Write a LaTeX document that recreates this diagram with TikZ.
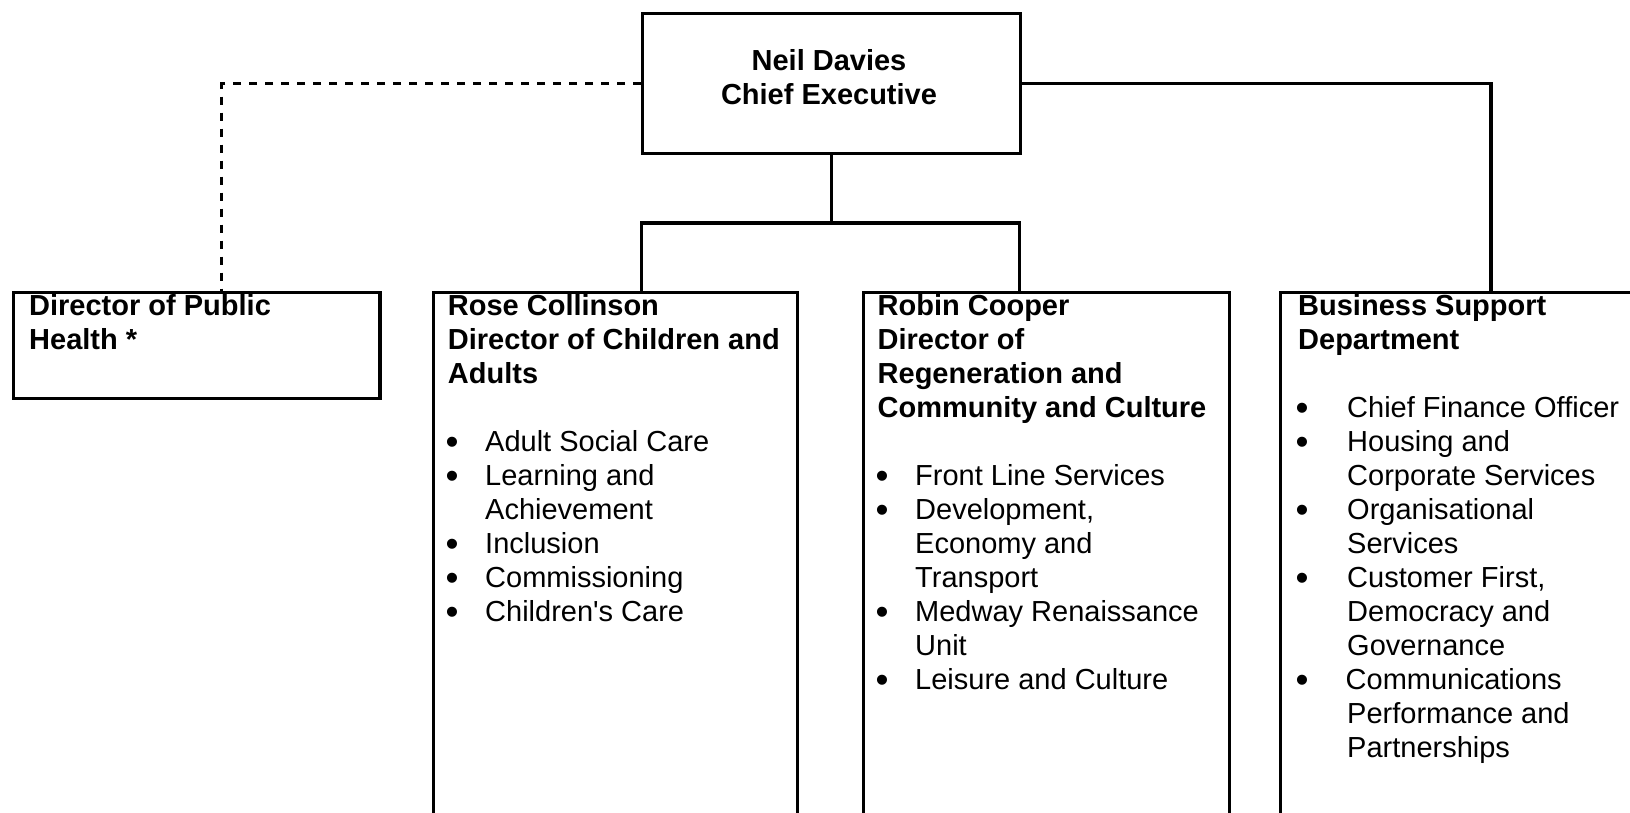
\documentclass[tikz,border=0pt]{standalone}
\usepackage{fontspec}
\setmainfont{Liberation Sans}
\newcommand\orgline[4]{\node[txt] (#1) at (#2,#3) {#4};}
\newcommand\orghead[4]{\node[txt,font=\fontsize{29}{34}\selectfont\bfseries] (#1) at (#2,#3) {#4};}
\newcommand\orgbul[3]{\node[bul,font=\fontsize{37}{34}\selectfont] (#1) at (#2,#3+3.5) {•};}
\begin{document}
\begin{tikzpicture}[x=1pt,y=-1pt,
  box/.style={draw=black, line width=3.2pt, inner sep=0pt, anchor=north west, fill=none},
  txt/.style={anchor=base west, inner sep=0pt, font=\fontsize{29}{34}\selectfont},
  bul/.style={anchor=base, inner sep=0pt, font=\fontsize{29}{34}\selectfont},
  conn/.style={draw=black, line width=3.2pt},
  dconn/.style={draw=black, line width=3.2pt, dash pattern=on 8pt off 8pt}]
\useasboundingbox (0,0) rectangle (1630,813);
\clip (0,0) rectangle (1630,813);
\fill[white] (0,0) rectangle (1630,813);

% boxes
\node[box, minimum width=378pt, minimum height=140pt] (ceo) at (641,12.3) {};
\node[box, minimum width=366.6pt, minimum height=106pt] (ph) at (11.7,290.5) {};
\node[box, minimum width=364.3pt, minimum height=560pt] (rose) at (431.7,290.5) {};
\node[box, minimum width=366pt, minimum height=560pt] (robin) at (861.7,290.5) {};
\node[box, minimum width=400pt, minimum height=560pt] (biz) at (1279,290.5) {};

% connector points
\coordinate (jr) at (641.5,223);
\coordinate (jb) at (1019.5,223);
\coordinate (phc) at (221.7,290.5);
\coordinate (bizc) at (1491,290.5);

\draw[conn] (ceo.south) -- (ceo.south |- jr);
\draw[conn] (rose.north -| jr) -- (jr) -- (jb) -- (robin.north -| jb);
\draw[conn] (ceo.east) -| (bizc);
\draw[dconn] (ceo.west) -| (phc);

% CEO text
\node[bul,font=\fontsize{29}{34}\selectfont\bfseries] (ceo1) at (829,70.7) {Neil Davies};
\node[bul,font=\fontsize{29}{34}\selectfont\bfseries] (ceo2) at (829,105) {Chief Executive};

% Public health
\orghead{ph1}{29}{315}{Director of Public}
\orghead{ph2}{29}{349}{Health *}

% Rose
\orghead{r1}{447.7}{315}{Rose Collinson}
\orghead{r2}{447.7}{349}{Director of Children and}
\orghead{r3}{447.7}{383}{Adults}
\orgbul{rb1}{452}{451}\orgline{ri1}{485}{451}{Adult Social Care}
\orgbul{rb2}{452}{485}\orgline{ri2}{485}{485}{Learning and}
\orgline{ri3}{485}{519}{Achievement}
\orgbul{rb3}{452}{553}\orgline{ri4}{485}{553}{Inclusion}
\orgbul{rb4}{452}{587}\orgline{ri5}{485}{587}{Commissioning}
\orgbul{rb5}{452}{621}\orgline{ri6}{485}{621}{Children\textquotesingle s Care}

% Robin
\orghead{c1}{877.5}{315}{Robin Cooper}
\orghead{c2}{877.5}{349}{Director of}
\orghead{c3}{877.5}{383}{Regeneration and}
\orghead{c4}{877.5}{417}{Community and Culture}
\orgbul{cb1}{882}{485}\orgline{ci1}{915}{485}{Front Line Services}
\orgbul{cb2}{882}{519}\orgline{ci2}{915}{519}{Development,}
\orgline{ci3}{915}{553}{Economy and}
\orgline{ci4}{915}{587}{Transport}
\orgbul{cb3}{882}{621}\orgline{ci5}{915}{621}{Medway Renaissance}
\orgline{ci6}{915}{655}{Unit}
\orgbul{cb4}{882}{689}\orgline{ci7}{915}{689}{Leisure and Culture}

% Business support
\orghead{b1}{1298}{315}{Business Support}
\orghead{b2}{1298}{349}{Department}
\orgbul{bb1}{1302}{417}\orgline{bi1}{1347}{417}{Chief Finance Officer}
\orgbul{bb2}{1302}{451}\orgline{bi2}{1347}{451}{Housing and}
\orgline{bi3}{1347}{485}{Corporate Services}
\orgbul{bb3}{1302}{519}\orgline{bi4}{1347}{519}{Organisational}
\orgline{bi5}{1347}{553}{Services}
\orgbul{bb4}{1302}{587}\orgline{bi6}{1347}{587}{Customer First,}
\orgline{bi7}{1347}{621}{Democracy and}
\orgline{bi8}{1347}{655}{Governance}
\orgbul{bb5}{1302}{689}\orgline{bi9}{1345.5}{689}{Communications}
\orgline{bi10}{1347}{723}{Performance and}
\orgline{bi11}{1347}{757}{Partnerships}
\end{tikzpicture}
\end{document}
